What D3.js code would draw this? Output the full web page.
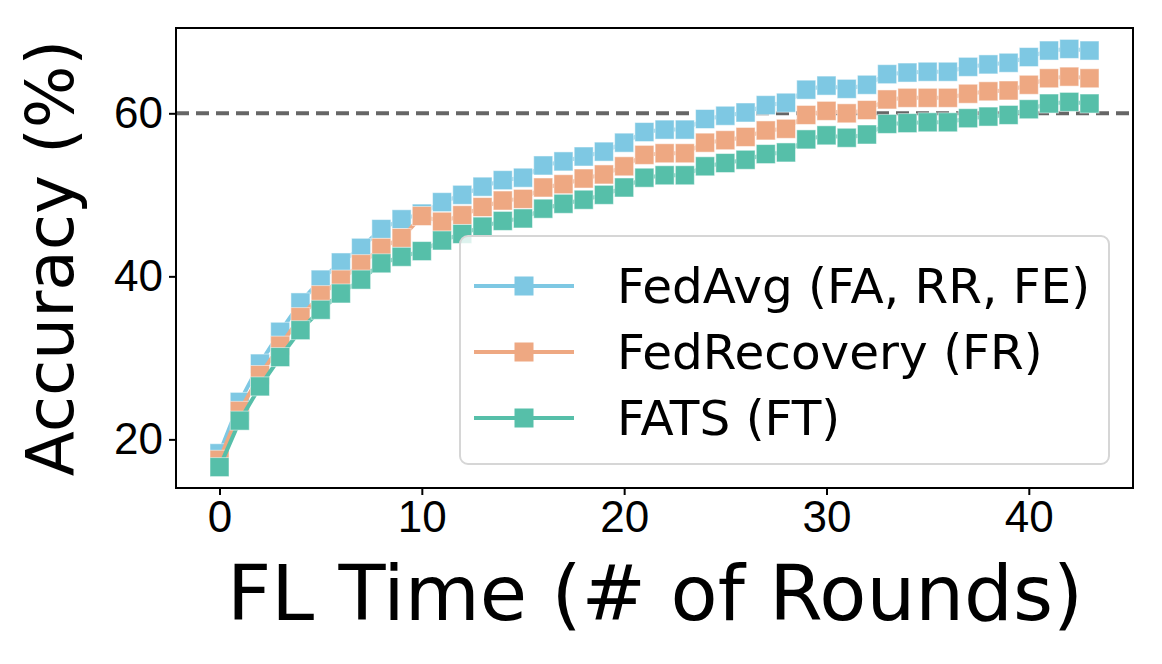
<!DOCTYPE html>
<html lang="en">
<head>
  <meta charset="UTF-8">
  <title>FL Time vs Accuracy</title>
  <style>
    * { box-sizing: border-box; margin: 0; }
    body { background: #fff; width: 1162px; height: 664px; overflow: hidden; }
    svg { display: block; font-family: "DejaVu Sans", sans-serif; }
    .axis path, .axis line { stroke: #000; stroke-width: 2; }
    .axis text { font-size: 44px; fill: #000; }
  </style>
</head>
<body>
  <svg></svg>
  <script src="https://d3js.org/d3.v7.min.js"></script>
  <script>
    const rounds = d3.range(0, 44);

    const fedAvg = [18.3, 24.6, 29.3, 33.2, 36.8, 39.6, 41.7, 43.5, 45.8, 47.0,
      47.7, 49.1, 50.0, 51.0, 51.8, 52.1, 53.6, 54.1, 54.7, 55.3,
      56.4, 57.7, 58.0, 58.0, 59.3, 59.7, 60.1, 61.0, 61.3, 62.9,
      63.4, 63.0, 63.5, 64.8, 65.0, 65.1, 65.1, 65.7, 66.0, 66.2,
      66.9, 67.7, 67.9, 67.7];

    const fedRecovery = [17.5, 23.5, 27.9, 31.5, 35.0, 37.7, 39.6, 41.5, 43.5, 44.7,
      47.4, 46.7, 47.5, 48.5, 49.3, 49.5, 50.9, 51.3, 52.0, 52.5,
      53.5, 54.9, 55.1, 55.1, 56.4, 56.7, 57.1, 57.9, 58.1, 59.8,
      60.3, 60.0, 60.4, 61.7, 61.9, 61.9, 61.9, 62.4, 62.7, 62.8,
      63.5, 64.3, 64.5, 64.3];

    const fats = [16.6, 22.3, 26.5, 30.1, 33.4, 35.9, 37.9, 39.6, 41.6, 42.4,
      43.1, 44.4, 45.2, 46.1, 46.8, 47.1, 48.3, 48.9, 49.4, 50.0,
      50.9, 52.1, 52.4, 52.4, 53.5, 53.9, 54.3, 55.0, 55.2, 56.8,
      57.3, 57.0, 57.4, 58.7, 58.8, 58.9, 58.9, 59.4, 59.6, 59.8,
      60.5, 61.2, 61.4, 61.2];

    const seriesNames = ['FedAvg (FA, RR, FE)', 'FedRecovery (FR)', 'FATS (FT)'];
    const seriesColors = ['#7ec8e3', '#eea882', '#56bfa9'];
    const threshold = 60;
    const xTicks = [0, 10, 20, 30, 40];
    const yTicks = [20, 40, 60];

    const series = [fedAvg, fedRecovery, fats].map((vals, i) => ({
      name: seriesNames[i],
      color: seriesColors[i],
      values: vals.map((v, j) => ({x: rounds[j], y: v}))
    }));

    const width = 1162, height = 664;
    const margin = {left: 176, right: 29, top: 28, bottom: 176};

    const svg = d3.select('svg')
      .attr('width', width)
      .attr('height', height);

    // matplotlib style 5% padding around data
    const pad = (lo, hi) => { const d = (hi - lo) * 0.05; return [lo - d, hi + d]; };
    const allY = [].concat(fedAvg, fedRecovery, fats);

    const x = d3.scaleLinear()
      .domain(pad(d3.min(rounds), d3.max(rounds)))
      .range([margin.left, width - margin.right]);

    const y = d3.scaleLinear()
      .domain(pad(d3.min(allY), d3.max(allY)))
      .range([height - margin.bottom, margin.top]);

    const plotG = svg.append('g');

    // threshold line
    plotG.append('line')
      .attr('x1', x.range()[0]).attr('x2', x.range()[1])
      .attr('y1', y(threshold)).attr('y2', y(threshold))
      .attr('stroke', '#666')
      .attr('stroke-width', 4)
      .attr('stroke-dasharray', '13,7');

    const line = d3.line().x(d => x(d.x)).y(d => y(d.y));
    const ms = 19;

    series.forEach(s => {
      plotG.append('path')
        .datum(s.values)
        .attr('d', line)
        .attr('fill', 'none')
        .attr('stroke', s.color)
        .attr('stroke-width', 4);

      plotG.selectAll(null)
        .data(s.values)
        .enter().append('rect')
        .attr('x', d => x(d.x) - ms / 2)
        .attr('y', d => y(d.y) - ms / 2)
        .attr('width', ms)
        .attr('height', ms)
        .attr('fill', s.color)
        .attr('stroke', '#fff')
        .attr('stroke-opacity', 0.5)
        .attr('stroke-width', 1);
    });

    // axes
    svg.append('g')
      .attr('class', 'axis')
      .attr('transform', 'translate(0,' + (height - margin.bottom) + ')')
      .call(d3.axisBottom(x).tickValues(xTicks).tickSize(7).tickSizeOuter(0).tickPadding(6))
      .call(g => g.select('.domain').remove());

    svg.append('g')
      .attr('class', 'axis')
      .attr('transform', 'translate(' + margin.left + ',0)')
      .call(d3.axisLeft(y).tickValues(yTicks).tickSize(7).tickSizeOuter(0).tickPadding(6))
      .call(g => g.select('.domain').remove());

    // frame
    svg.append('rect')
      .attr('x', x.range()[0]).attr('y', y.range()[1])
      .attr('width', x.range()[1] - x.range()[0])
      .attr('height', y.range()[0] - y.range()[1])
      .attr('fill', 'none')
      .attr('stroke', '#000')
      .attr('stroke-width', 2);

    // axis labels
    svg.append('text')
      .attr('x', 655)
      .attr('y', 620)
      .attr('text-anchor', 'middle')
      .style('font-size', '77px')
      .text('FL Time (# of Rounds)');

    svg.append('text')
      .attr('transform', 'translate(73,' + ((y.range()[0] + y.range()[1]) / 2) + ') rotate(-90)')
      .attr('text-anchor', 'middle')
      .style('font-size', '66px')
      .text('Accuracy (%)');

    // legend
    const legend = svg.append('g').attr('transform', 'translate(460,236)');
    legend.append('rect')
      .attr('width', 649).attr('height', 228)
      .attr('rx', 8)
      .attr('fill', '#fff').attr('fill-opacity', 0.8)
      .attr('stroke', '#d6d6d6').attr('stroke-width', 2);

    series.forEach((s, i) => {
      const row = legend.append('g').attr('transform', 'translate(0,' + (50 + i * 66) + ')');
      row.append('line')
        .attr('x1', 14).attr('x2', 114)
        .attr('stroke', s.color).attr('stroke-width', 4);
      row.append('rect')
        .attr('x', 64 - ms / 2).attr('y', -ms / 2)
        .attr('width', ms).attr('height', ms)
        .attr('fill', s.color);
      row.append('text')
        .attr('x', 157)
        .attr('dy', '0.36em')
        .style('font-size', '48.5px')
        .text(s.name);
    });
  </script>
</body>
</html>
